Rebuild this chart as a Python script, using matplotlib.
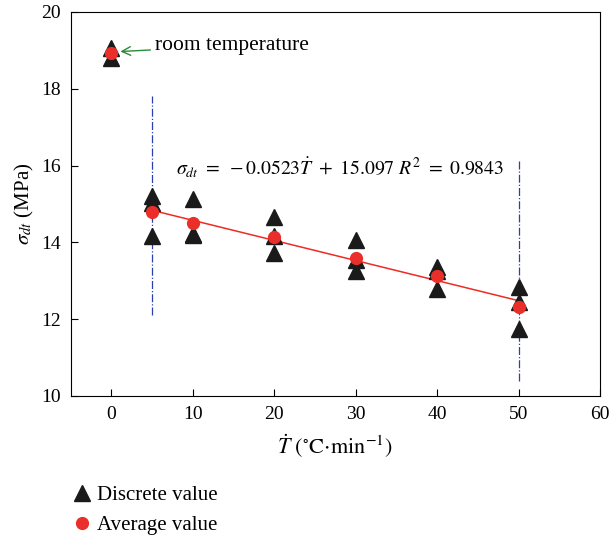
import numpy as np
import matplotlib.pyplot as plt
from matplotlib.lines import Line2D

plt.rcParams["font.family"] = "Liberation Serif"
plt.rcParams["mathtext.fontset"] = "stix"

# --- Measured strength per heating rate ---
rate = [0, 0, 5, 5, 5, 10, 10, 10, 20, 20, 20, 30, 30, 30, 40, 40, 40, 50, 50, 50]
sigma = [19.07, 18.80, 15.21, 15.03, 14.17, 15.12, 14.22, 14.20, 14.67, 14.17, 13.72,
         14.07, 13.55, 13.25, 13.36, 13.25, 12.78, 12.85, 12.46, 11.74]

avg_rate = [0, 5, 10, 20, 30, 40, 50]
avg_sigma = [18.92, 14.79, 14.51, 14.14, 13.60, 13.12, 12.33]

# linear fit reported in the paper
slope, intercept = -0.0523, 15.097
fit_x = np.array([5, 50])

fig = plt.figure(figsize=(6.10, 5.37), dpi=100)
ax = fig.add_axes([0.1159, 0.2626, 0.8677, 0.7151])

ax.plot(fit_x, slope * fit_x + intercept, color="#ee2b24", lw=1.1, zorder=2)
ax.plot(rate, sigma, "^", color="#1a1a1a", ms=11.5, ls="none", zorder=3)
ax.plot(avg_rate, avg_sigma, "o", color="#ea2f2a", ms=8.5, ls="none", zorder=4)

# guide lines bounding the fitted range
ax.plot([5, 5], [12.1, 17.8], color="#2b3fae", lw=0.9, ls="-.", zorder=1)
ax.plot([50, 50], [10.4, 16.15], color="#2b3fae", lw=0.9, ls="-.", zorder=1)

ax.text(7.9, 15.93,
        r"$\sigma_{dt}\ =\ -0.0523\dot{T}\ +\ 15.097\ R^2\ =\ 0.9843$",
        fontsize=14.2, va="center", ha="left")

ax.annotate("room temperature", xy=(1.1, 18.97), xytext=(5.3, 19.12),
            fontsize=15.5, va="center", ha="left",
            arrowprops=dict(arrowstyle="->", color="#2a8a3a", lw=1.0,
                            shrinkA=1, shrinkB=0))

ax.set_xlim(-5, 60)
ax.set_ylim(10, 20)
ax.set_xticks(range(0, 61, 10))
ax.set_yticks(range(10, 21, 2))
ax.tick_params(direction="in", length=5, labelsize=14, pad=7)
ax.set_xlabel(r"$\dot{T}\ (^{\circ}\mathrm{C}{\cdot}\mathrm{min}^{-1})$", fontsize=16,
              labelpad=7)
ax.set_ylabel(r"$\sigma_{dt}$ (MPa)", fontsize=15)

handles = [
    Line2D([], [], marker="^", color="#1a1a1a", ms=11.5, ls="none"),
    Line2D([], [], marker="o", color="#ea2f2a", ms=8.5, ls="none"),
]
fig.legend(handles, ["Discrete value", "Average value"], loc="lower left",
           bbox_to_anchor=(0.087, -0.031), frameon=False, fontsize=15,
           handlelength=1.0, handletextpad=0.2, labelspacing=0.5)

fig.savefig("out.png", dpi=100)
